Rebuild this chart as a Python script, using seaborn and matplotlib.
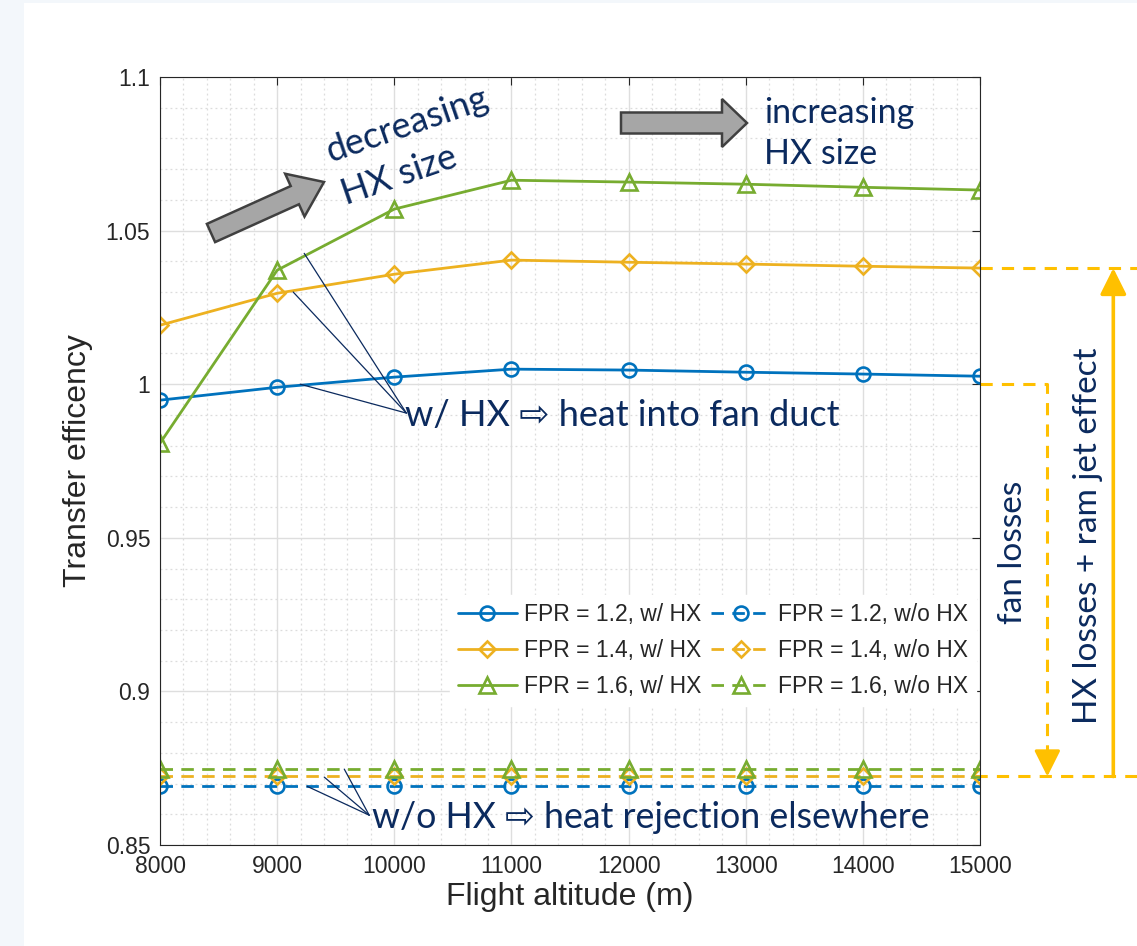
import pandas as pd
import seaborn as sns
import matplotlib.pyplot as plt
from matplotlib.patches import FancyArrow, Rectangle
from matplotlib.transforms import Affine2D
from matplotlib.ticker import MultipleLocator

W, H = 1137, 946

# data
altitude = [8000, 9000, 10000, 11000, 12000, 13000, 14000, 15000]
eff_hx_12 = [0.9948, 0.9990, 1.0023, 1.0049, 1.0046, 1.0039, 1.0033, 1.0026]
eff_hx_14 = [1.0192, 1.0296, 1.0358, 1.0404, 1.0397, 1.0391, 1.0384, 1.0378]
eff_hx_16 = [0.9808, 1.0371, 1.0570, 1.0664, 1.0658, 1.0651, 1.0641, 1.0632]
eff_nohx_12 = [0.8692, 0.8692, 0.8692, 0.8692, 0.8692, 0.8692, 0.8692, 0.8692]
eff_nohx_14 = [0.8723, 0.8723, 0.8723, 0.8723, 0.8723, 0.8723, 0.8723, 0.8723]
eff_nohx_16 = [0.8746, 0.8746, 0.8746, 0.8746, 0.8746, 0.8746, 0.8746, 0.8746]
fpr = ["1.2", "1.4", "1.6"]
yticks = [0.85, 0.9, 0.95, 1.0, 1.05, 1.1]
ytick_labels = ["0.85", "0.9", "0.95", "1", "1.05", "1.1"]
xticks = [8000, 9000, 10000, 11000, 12000, 13000, 14000, 15000]

colors = ["#0072BD", "#EDB120", "#77AC30"]
markers = ["o", "D", "^"]
msizes = [10, 8.5, 11.5]
navy = "#0B2A5E"
gold = "#FFC000"

sns.set_theme(style="white")
plt.rcParams["font.family"] = ["Liberation Sans", "DejaVu Sans"]
note_font = ["Lato", "DejaVu Sans"]

fig = plt.figure(figsize=(W / 100, H / 100), dpi=100, facecolor="#f3f7fb")
fig.add_artist(Rectangle((24 / W, 0), 1 - 24 / W, 1 - 3 / H, transform=fig.transFigure,
                         facecolor="white", edgecolor="none", zorder=-5))
ax = fig.add_axes([160 / W, 1 - 845 / H, 820 / W, 768 / H])
ax.set_facecolor("white")

# pixel coordinates (top-left origin) for annotations
pix = Affine2D().scale(1 / W, -1 / H).translate(0, 1) + fig.transFigure

hx = [eff_hx_12, eff_hx_14, eff_hx_16]
nohx = [eff_nohx_12, eff_nohx_14, eff_nohx_16]
for i in range(3):
    sns.lineplot(x=altitude, y=hx[i], ax=ax, color=colors[i], lw=2.0, marker=markers[i],
                 markersize=msizes[i], markerfacecolor="none", markeredgecolor=colors[i],
                 markeredgewidth=1.9, label=f"FPR = {fpr[i]}, w/ HX", zorder=4)
for i in range(3):
    sns.lineplot(x=altitude, y=nohx[i], ax=ax, color=colors[i], lw=2.0, linestyle=(0, (4.5, 3)),
                 marker=markers[i], markersize=msizes[i], markerfacecolor="none",
                 markeredgecolor=colors[i], markeredgewidth=1.9,
                 label=f"FPR = {fpr[i]}, w/o HX", zorder=4)

ax.set_xlim(8000, 15000)
ax.set_ylim(0.85, 1.1)
ax.set_xticks(xticks)
ax.set_xticklabels([str(x) for x in xticks])
ax.set_yticks(yticks)
ax.set_yticklabels(ytick_labels)
ax.xaxis.set_minor_locator(MultipleLocator(200))
ax.yaxis.set_minor_locator(MultipleLocator(0.01))
ax.grid(which="major", color="#dedede", lw=1.0)
ax.grid(which="minor", color="#dcdcdc", lw=0.9, linestyle=(0, (1.5, 2.5)))
ax.set_axisbelow(True)
ax.tick_params(which="major", direction="in", length=6, width=0.8, color="#262626",
               top=True, right=True, labelsize=16.5, labelcolor="#262626", pad=7)
ax.tick_params(which="minor", length=0)
for s in ax.spines.values():
    s.set_color("#262626")
    s.set_linewidth(0.8)
    s.set_zorder(7)
ax.set_xlabel("Flight altitude (m)", fontsize=23, color="#262626", labelpad=3)
ax.set_ylabel("Transfer efficency", fontsize=23, color="#262626", labelpad=9)

leg = ax.legend(ncol=2, loc="upper right", bbox_to_anchor=(1.0088, 0.340), fontsize=16.5,
                frameon=True, fancybox=False, framealpha=1, facecolor="white", edgecolor="white",
                handlelength=2.6, handletextpad=0.3, columnspacing=0.42, labelspacing=0.56,
                borderpad=0.35)
leg.set_zorder(5)

# gray block arrows
fig.add_artist(FancyArrow(211, 233, 113, -51, width=20, head_width=47, head_length=32,
                          length_includes_head=True, facecolor="#a6a6a6", edgecolor="#404040",
                          lw=1.8, transform=pix, zorder=6))
fig.add_artist(FancyArrow(621, 123, 126, 0, width=21, head_width=48, head_length=25,
                          length_includes_head=True, facecolor="#a6a6a6", edgecolor="#404040",
                          lw=1.8, transform=pix, zorder=6))

# navy notes
fig.text(331, 162, "decreasing", transform=pix, rotation=19, rotation_mode="anchor",
         ha="left", va="baseline", fontsize=26, color=navy, family=note_font, zorder=6)
fig.text(346, 205, "HX size", transform=pix, rotation=19, rotation_mode="anchor",
         ha="left", va="baseline", fontsize=26, color=navy, family=note_font, zorder=6)
fig.text(764, 123, "increasing", transform=pix, ha="left", va="baseline", fontsize=24.5,
         color=navy, family=note_font)
fig.text(764, 164, "HX size", transform=pix, ha="left", va="baseline", fontsize=24.5,
         color=navy, family=note_font)
fig.text(405, 426, "w/ HX \u21e8 heat into fan duct", transform=pix, ha="left", va="baseline",
         fontsize=26, color=navy, family=note_font, zorder=6)
fig.text(372, 828, "w/o HX \u21e8 heat rejection elsewhere", transform=pix, ha="left",
         va="baseline", fontsize=25.7, color=navy, family=note_font, zorder=6)
fig.text(1013, 552, "fan losses", transform=pix, rotation=90, ha="center", va="center",
         fontsize=24, color=navy, family=note_font)
fig.text(1088, 536, "HX losses + ram jet effect", transform=pix, rotation=90, ha="center",
         va="center", fontsize=24, color=navy, family=note_font)

# pointer lines to the curves
for px_, py_ in [(9231, 1.0426), (9137, 1.0300), (9197, 1.0000)]:
    ax.plot([10103, px_], [0.9906, py_], color=navy, lw=0.9, zorder=5)
for px_, py_ in [(9256, 0.8691), (9402, 0.8721), (9573, 0.8747)]:
    ax.plot([9786, px_], [0.8597, py_], color=navy, lw=0.9, zorder=5)

# loss brackets on the right
dash = (0, (4, 3))
ax.plot([15000, 16350], [eff_hx_14[-1]] * 2, color=gold, lw=2.2, linestyle=dash, clip_on=False)
ax.plot([15000, 15575, 15575], [1.0, 1.0, 0.8775], color=gold, lw=2.2, linestyle=dash,
        clip_on=False)
ax.plot([14960, 16350], [eff_nohx_14[0]] * 2, color=gold, lw=2.2, linestyle=dash, clip_on=False)
ax.annotate("", xy=(15575, eff_nohx_14[0]), xytext=(15575, 0.8790), annotation_clip=False,
            arrowprops=dict(arrowstyle="-|>,head_length=0.8,head_width=0.4", mutation_scale=20,
                            color=gold, lw=2.2, shrinkA=0, shrinkB=0))
ax.annotate("", xy=(16138, eff_hx_14[-1]), xytext=(16138, eff_nohx_14[0]), annotation_clip=False,
            arrowprops=dict(arrowstyle="-|>,head_length=0.8,head_width=0.4", mutation_scale=20,
                            color=gold, lw=2.6, shrinkA=0, shrinkB=0))

fig.savefig("out.png", dpi=100, facecolor=fig.get_facecolor())
